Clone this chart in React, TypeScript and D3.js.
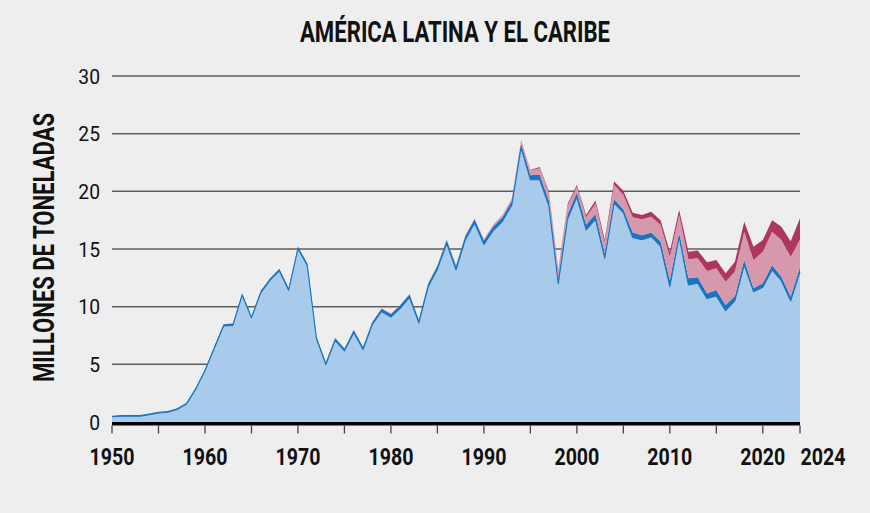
import React from 'react';
import * as d3 from 'd3';

const YEARS: number[] = d3.range(1950, 2025);

// Light blue layer
const SERIES_A = [
  0.45, 0.5, 0.5, 0.5, 0.63, 0.78, 0.85, 1.08, 1.55, 2.85,
  4.45, 6.4, 8.33, 8.38, 11.0, 9.03, 11.2, 12.3, 13.1, 11.43,
  15.03, 13.58, 7.2, 4.98, 7.08, 6.16, 7.76, 6.29, 8.45, 9.58,
  9.1, 9.85, 10.8, 8.6, 11.7, 13.25, 15.48, 13.2, 15.8, 17.25,
  15.4, 16.6, 17.4, 18.8, 23.8, 21.0, 21.0, 18.7, 12.0, 17.6,
  19.5, 16.65, 17.58, 14.2, 18.97, 18.15, 16.0, 15.8, 16.07, 15.26,
  11.73, 16.07, 11.88, 12.03, 10.7, 10.93, 9.65, 10.52, 13.6, 11.3,
  11.68, 13.18, 12.25, 10.5, 13.05,
];
// Dark blue layer
const SERIES_B = [
  0.09, 0.1, 0.1, 0.1, 0.1, 0.1, 0.11, 0.11, 0.11, 0.12,
  0.13, 0.14, 0.15, 0.16, 0.17, 0.17, 0.17, 0.17, 0.18, 0.18,
  0.18, 0.19, 0.2, 0.2, 0.2, 0.21, 0.22, 0.22, 0.23, 0.25,
  0.27, 0.27, 0.27, 0.27, 0.28, 0.3, 0.3, 0.32, 0.32, 0.33,
  0.33, 0.35, 0.35, 0.35, 0.35, 0.4, 0.45, 0.45, 0.4, 0.4,
  0.4, 0.45, 0.45, 0.4, 0.35, 0.3, 0.42, 0.4, 0.35, 0.38,
  0.57, 0.29, 0.58, 0.52, 0.45, 0.52, 0.5, 0.41, 0.45, 0.3,
  0.35, 0.42, 0.35, 0.37, 0.38,
];
// Pink layer
const SERIES_C = [
  0, 0, 0, 0, 0, 0, 0, 0, 0, 0,
  0, 0, 0, 0, 0, 0, 0, 0, 0, 0,
  0, 0, 0, 0, 0.03, 0.02, 0.02, 0.02, 0.02, 0.03,
  0.03, 0.03, 0.03, 0.03, 0.05, 0.05, 0.07, 0.08, 0.08, 0.09,
  0.12, 0.15, 0.2, 0.25, 0.3, 0.4, 0.55, 0.7, 0.7, 0.75,
  0.5, 0.65, 0.92, 0.95, 1.25, 1.25, 1.33, 1.38, 1.38, 1.46,
  2.04, 1.59, 1.65, 1.65, 1.95, 1.88, 2.02, 2.11, 2.45, 2.45,
  2.74, 2.9, 3.18, 3.45, 2.4,
];
// Crimson layer
const SERIES_D = [
  0, 0, 0, 0, 0, 0, 0, 0, 0, 0,
  0, 0, 0, 0, 0, 0, 0, 0, 0, 0,
  0, 0, 0, 0, 0, 0, 0, 0, 0, 0,
  0, 0, 0, 0, 0, 0, 0, 0, 0, 0,
  0, 0, 0, 0, 0, 0.06, 0.1, 0.12, 0.1, 0.15,
  0.15, 0.2, 0.25, 0.25, 0.3, 0.36, 0.4, 0.37, 0.44, 0.4,
  0.43, 0.45, 0.66, 0.66, 0.75, 0.72, 0.73, 0.86, 0.87, 1.15,
  1.01, 1.0, 1.16, 1.35, 1.84,
];

const Y_TICKS = [0, 5, 10, 15, 20, 25, 30];
const X_LABELS = [1950, 1960, 1970, 1980, 1990, 2000, 2010, 2020, 2024];
const X_TICKS = d3.range(1950, 2025, 5).concat([2024]);
const TITLE = 'AMÉRICA LATINA Y EL CARIBE';
const Y_TITLE = 'MILLONES DE TONELADAS';

const KEYS = ['a', 'b', 'c', 'd'];
const COLORS: Record<string, string> = {
  a: '#a8caeb',
  b: '#1b74bd',
  c: '#d598ac',
  d: '#ad3761',
};

const FONT = 'Roboto, "Liberation Sans", sans-serif';

export default function App() {
  const W = 870;
  const H = 513;
  const x = d3.scaleLinear().domain([1950, 2024]).range([112, 800]);
  const y = d3.scaleLinear().domain([0, 30]).range([422, 76]);

  const rows = YEARS.map((yr, i) => ({
    year: yr,
    a: SERIES_A[i],
    b: SERIES_B[i],
    c: SERIES_C[i],
    d: SERIES_D[i],
  }));
  const stacked = d3.stack<any>().keys(KEYS)(rows);
  const area = d3
    .area<any>()
    .x((d) => x(d.data.year))
    .y0((d) => y(d[0]))
    .y1((d) => y(d[1]));
  const topLine = d3
    .line<any>()
    .x((d) => x(d.data.year))
    .y((d) => y(d[1]));

  return (
    <svg
      width={W}
      height={H}
      style={{ position: 'absolute', left: 0, top: 0, display: 'block' }}
    >
      <rect x={0} y={0} width={W} height={H} fill="#eeeeee" />

      {/* title */}
      <text
        x={455}
        y={41.5}
        textAnchor="middle"
        fontFamily={FONT}
        fontWeight={700}
        fontSize={29}
        textLength={310}
        lengthAdjust="spacingAndGlyphs"
        fill="#111"
      >
        {TITLE}
      </text>

      {/* y title */}
      <text
        transform={`translate(53.5,247.5) rotate(-90)`}
        textAnchor="middle"
        fontFamily={FONT}
        fontWeight={700}
        fontSize={30}
        textLength={269}
        lengthAdjust="spacingAndGlyphs"
        fill="#111"
      >
        {Y_TITLE}
      </text>

      {/* gridlines */}
      {Y_TICKS.filter((t) => t > 0).map((t) => (
        <line
          key={'g' + t}
          x1={x(1950)}
          x2={x(2024)}
          y1={y(t)}
          y2={y(t)}
          stroke="#5e5e5e"
          strokeWidth={1.5}
        />
      ))}

      {/* y labels */}
      {Y_TICKS.map((t) => (
        <text
          key={'yl' + t}
          transform={`translate(100,${y(t) + 7.5}) scale(0.92,1)`}
          textAnchor="end"
          fontFamily={FONT}
          fontSize={21}
          fill="#111"
        >
          {t}
        </text>
      ))}

      {/* stacked areas */}
      {stacked.map((s) => (
        <path key={s.key} d={area(s) || ''} fill={COLORS[s.key]} />
      ))}
      {/* blue edge on top of the light blue layer */}
      <path
        d={topLine(stacked[0]) || ''}
        fill="none"
        stroke={COLORS.b}
        strokeWidth={1.1}
        strokeLinejoin="round"
      />

      {/* bottom axis */}
      <line
        x1={x(1950)}
        x2={x(2024)}
        y1={y(0) + 1.7}
        y2={y(0) + 1.7}
        stroke="#000"
        strokeWidth={3.4}
      />
      {X_TICKS.map((t) => (
        <line
          key={'xt' + t}
          x1={x(t)}
          x2={x(t)}
          y1={y(0) + 3.4}
          y2={y(0) + 11.5}
          stroke="#444"
          strokeWidth={1.3}
        />
      ))}
      {X_LABELS.map((t) => (
        <text
          key={'xl' + t}
          transform={`translate(${t === 2024 ? x(t) + 0.5 : x(t)},464.5) scale(0.8,1)`}
          textAnchor={t === 2024 ? 'start' : 'middle'}
          fontFamily={FONT}
          fontWeight={700}
          fontSize={24.5}
          fill="#111"
        >
          {t}
        </text>
      ))}
    </svg>
  );
}
